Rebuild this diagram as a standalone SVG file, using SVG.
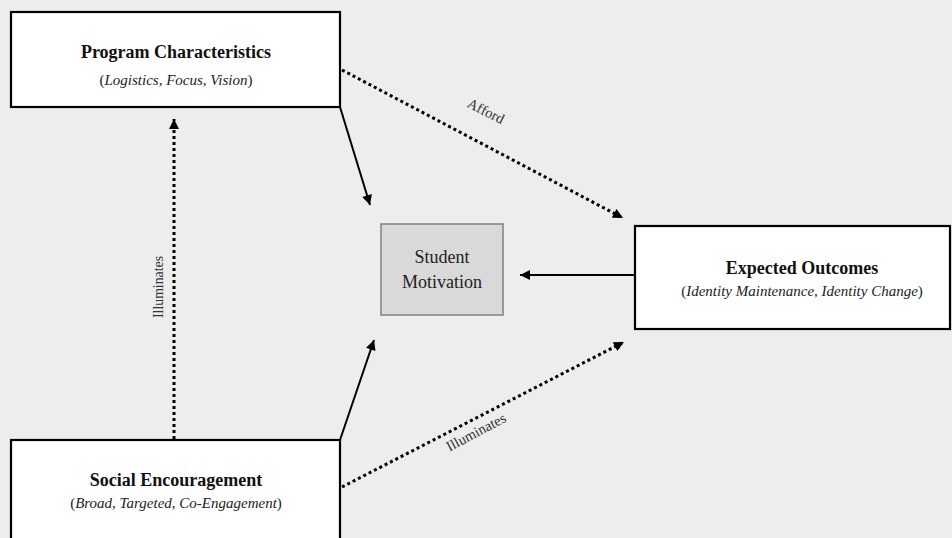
<svg xmlns="http://www.w3.org/2000/svg" width="952" height="538" viewBox="0 0 952 538">
<style>
.box{fill:#ffffff;stroke:#000000;stroke-width:2.2}
.title{font-family:"Liberation Serif","Times New Roman",serif;font-weight:bold;font-size:18px;fill:#111;text-anchor:middle}
.sub{font-family:"Liberation Serif","Times New Roman",serif;font-size:15px;fill:#222;text-anchor:middle}
.lbl{font-family:"Liberation Serif","Times New Roman",serif;font-size:14.5px;fill:#333;text-anchor:middle;dominant-baseline:central}
.solid{stroke:#000;stroke-width:2;fill:none}
.dot{stroke:#000;stroke-width:3;fill:none;stroke-dasharray:3 3}
</style>
<defs>
<marker id="ah" viewBox="0 0 10 10" refX="10" refY="5" markerUnits="userSpaceOnUse" markerWidth="12" markerHeight="10" orient="auto">
<path d="M0,0 L10,5 L0,10 Z" fill="#000" stroke="none"/>
</marker>
</defs>
<rect x="0" y="0" width="952" height="538" fill="#ecedec"/>
<g id="connectors">
<line class="solid" x1="340" y1="107" x2="370" y2="205" marker-end="url(#ah)"/>
<line class="solid" x1="340" y1="440" x2="374" y2="340" marker-end="url(#ah)"/>
<line class="solid" x1="634" y1="275" x2="520" y2="275" marker-end="url(#ah)"/>
<line class="dot" x1="342" y1="70" x2="623" y2="218" marker-end="url(#ah)"/>
<line class="dot" x1="342" y1="487" x2="624" y2="342" marker-end="url(#ah)"/>
<line class="dot" x1="174" y1="439" x2="174" y2="119" marker-end="url(#ah)"/>
<text class="lbl" transform="translate(486,111) rotate(27)">Afford</text>
<text class="lbl" transform="translate(476,432) rotate(-28)">Illuminates</text>
<text class="lbl" style="font-size:13.8px" transform="translate(158,287) rotate(-90)">Illuminates</text>
</g>
<g id="program">
<rect class="box" x="11" y="12" width="329" height="95"/>
<text class="title" x="176" y="58">Program Characteristics</text>
<text class="sub" x="176" y="85">(<tspan font-style="italic">Logistics, Focus, Vision</tspan>)</text>
</g>
<g id="motivation">
<rect x="381" y="224" width="122" height="91" fill="#d9d9d9" stroke="#808080" stroke-width="1.5"/>
<text x="442" y="263" font-family="Liberation Serif, Times New Roman, serif" font-size="18" fill="#222" text-anchor="middle">Student</text>
<text x="442" y="288" font-family="Liberation Serif, Times New Roman, serif" font-size="18" fill="#222" text-anchor="middle">Motivation</text>
</g>
<g id="outcomes">
<rect class="box" x="635" y="226" width="315" height="103"/>
<text class="title" x="802" y="274">Expected Outcomes</text>
<text class="sub" x="802" y="296">(<tspan font-style="italic">Identity Maintenance, Identity Change</tspan>)</text>
</g>
<g id="social">
<rect class="box" x="11" y="440" width="329" height="110"/>
<text class="title" x="176" y="486">Social Encouragement</text>
<text class="sub" x="176" y="508">(<tspan font-style="italic">Broad, Targeted, Co-Engagement</tspan>)</text>
</g>
</svg>
